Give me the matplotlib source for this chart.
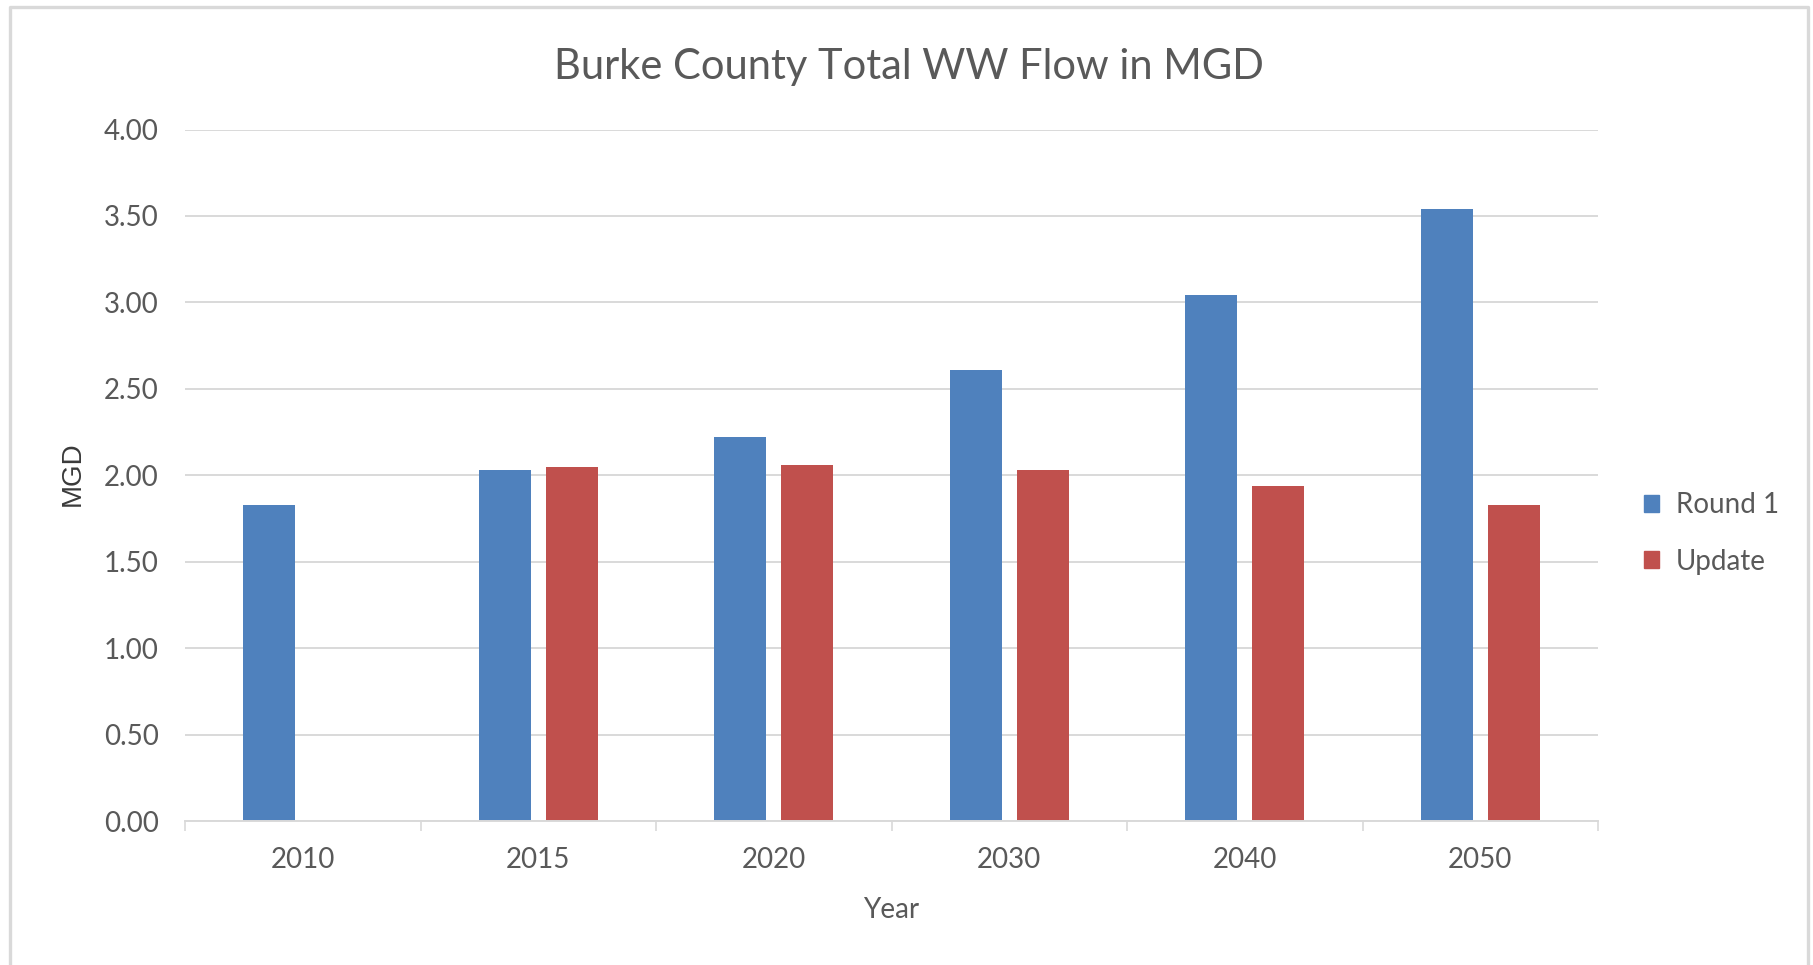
import matplotlib
matplotlib.use("Agg")
import matplotlib.pyplot as plt
import numpy as np
from matplotlib.lines import Line2D
from matplotlib.patches import Patch

years = ["2010", "2015", "2020", "2030", "2040", "2050"]
round1 = [1.83, 2.03, 2.22, 2.61, 3.04, 3.54]
update = [np.nan, 2.05, 2.06, 2.03, 1.94, 1.83]
series_names = ["Round 1", "Update"]
yticks = [0.0, 0.5, 1.0, 1.5, 2.0, 2.5, 3.0, 3.5, 4.0]

BLUE = "#4F81BD"
RED = "#C0504D"
TXT = "#595959"
GRID = "#D9D9D9"
FONT = "Lato"

W, H = 1813, 965
fig = plt.figure(figsize=(W / 100, H / 100), dpi=100)
fig.patch.set_facecolor("white")

ax = fig.add_axes([185 / W, 1 - 821 / H, 1413 / W, (821 - 129.5) / H])

x = np.arange(len(years))
bw = 0.22
off = 0.142
ax.bar(x - off, round1, width=bw, color=BLUE, label=series_names[0], zorder=3)
ax.bar(x + off, update, width=bw, color=RED, label=series_names[1], zorder=3)

ax.set_xlim(-0.5, len(years) - 0.5)
ax.set_ylim(0, 4)
ax.set_yticks(yticks)
ax.set_yticklabels([f"{v:.2f}" for v in yticks], fontfamily=FONT, fontsize=20, color=TXT)
ax.set_xticks(x)
ax.set_xticklabels(years, fontfamily=FONT, fontsize=20, color=TXT)
ax.set_xticks(np.arange(-0.5, len(years)), minor=True)
ax.tick_params(axis="x", which="major", length=0, pad=19)
ax.tick_params(axis="x", which="minor", length=7.2, width=1.2, color=GRID)
ax.tick_params(axis="y", length=0, pad=19)

ax.grid(axis="y", color=GRID, linewidth=1.4, zorder=0)
for s in ["top", "right", "left"]:
    ax.spines[s].set_visible(False)
ax.spines["bottom"].set_color(GRID)
ax.spines["bottom"].set_linewidth(1.4)
ax.spines["bottom"].set_zorder(4)

ax.set_xlabel("Year", fontfamily=FONT, fontsize=20, color=TXT, labelpad=17)
fig.text(73 / W, 1 - 474 / H, "MGD", rotation=90, ha="center", va="center",
         fontfamily="Liberation Sans", fontsize=20, color="#3a3a3a")

fig.text(909 / W, 1 - 67.5 / H, "Burke County Total WW Flow in MGD", ha="center", va="center",
         fontfamily=FONT, fontsize=30, color=TXT)

handles = [Patch(facecolor=BLUE, edgecolor=BLUE), Patch(facecolor=RED, edgecolor=RED)]
leg = fig.legend(handles, series_names, loc="upper left",
                 bbox_to_anchor=(1644 / W, 1 - 492 / H), frameon=False,
                 handlelength=0.55, handleheight=0.55, handletextpad=0.6,
                 labelspacing=1.1, borderpad=0, borderaxespad=0,
                 prop={"family": FONT, "size": 20})
for t in leg.get_texts():
    t.set_color(TXT)

# outer chart border (left, top, right)
bx0, bx1, by0 = 10 / W, 1808 / W, 1 - 6.5 / H
fig.add_artist(Line2D([bx0, bx0, bx1, bx1], [0, by0, by0, 0],
                      transform=fig.transFigure, color=GRID, linewidth=2.4))

fig.savefig("out.png", dpi=100, facecolor="white")
